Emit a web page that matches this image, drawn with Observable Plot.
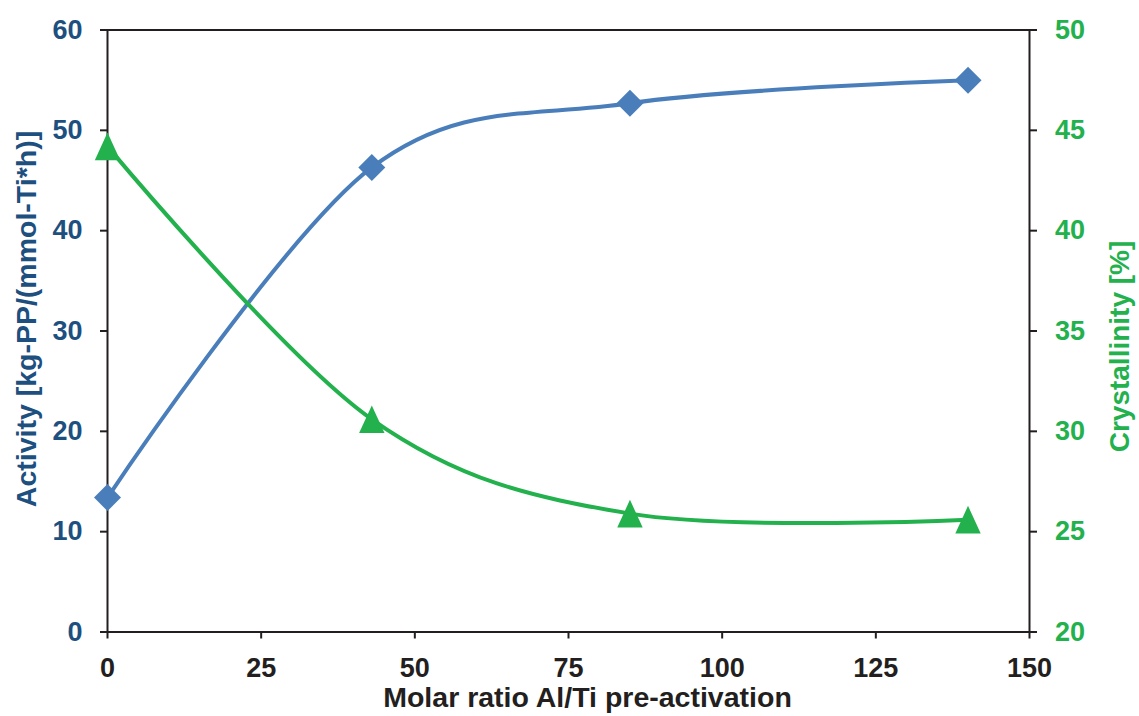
<!DOCTYPE html>
<html>
<head>
<meta charset="utf-8">
<script src="https://cdn.jsdelivr.net/npm/d3@7"></script>
<script src="https://cdn.jsdelivr.net/npm/@observablehq/plot@0.6"></script>
<style>
  html, body { margin: 0; padding: 0; background: #ffffff; }
  #chart svg { display: block; }
</style>
</head>
<body>
<div id="chart"></div>
<script>
// Molar ratio Al/Ti used in pre-activation
const molarRatio = [0, 43, 85, 140];
// Catalyst activity, kg-PP/(mmol-Ti*h)
const activity = [13.4, 46.3, 52.7, 55.0];
// Crystallinity of the polymer, %
const crystallinity = [44.2, 30.6, 25.9, 25.6];

const xTicks = [0, 25, 50, 75, 100, 125, 150];
const activityTicks = [0, 10, 20, 30, 40, 50, 60];
const crystTicks = [20, 25, 30, 35, 40, 45, 50];

const rows = molarRatio.map((r, i) => ({ratio: r, activity: activity[i], cryst: crystallinity[i]}));

// Secondary axis: crystallinity 20–50 % is drawn on the 0–60 activity scale
const crystMin = 20, crystMax = 50, actMax = 60;
const toLeft = c => (c - crystMin) * actMax / (crystMax - crystMin);
const fromLeft = v => crystMin + v * (crystMax - crystMin) / actMax;

const BLUE = "#4A7EBB";
const DARK_BLUE = "#1D4F7F";
const GREEN = "#22B14C";
const INK = "#231F20";
const FONT = "'Liberation Sans', Arial, sans-serif";

// Filled marker shapes; r is the half-height of the marker
const diamond = {
  draw(ctx, size) {
    const r = Math.sqrt(size / Math.PI);
    ctx.moveTo(0, -r); ctx.lineTo(r, 0); ctx.lineTo(0, r); ctx.lineTo(-r, 0); ctx.closePath();
  }
};
const triangle = {
  draw(ctx, size) {
    const r = Math.sqrt(size / Math.PI);
    ctx.moveTo(0, -r); ctx.lineTo(r * 0.92, r); ctx.lineTo(-r * 0.92, r); ctx.closePath();
  }
};

const chart = Plot.plot({
  width: 1139,
  height: 716,
  marginLeft: 107,
  marginRight: 110,
  marginTop: 29.5,
  marginBottom: 84.5,
  style: {fontFamily: FONT, background: "#ffffff"},
  x: {domain: [0, 150]},
  y: {domain: [0, 60]},
  marks: [
    Plot.line(rows, {x: "ratio", y: "activity", curve: "cardinal", stroke: BLUE, strokeWidth: 4}),
    Plot.line(rows, {x: "ratio", y: d => toLeft(d.cryst), curve: "cardinal", stroke: GREEN, strokeWidth: 4}),
    Plot.frame({stroke: INK, strokeWidth: 2}),
    Plot.axisX(xTicks, {
      anchor: "bottom", tickSize: 7, tickPadding: 19, stroke: INK, strokeWidth: 2,
      fill: INK, fontSize: 27, fontWeight: "bold", label: null
    }),
    Plot.axisY(activityTicks, {
      anchor: "left", tickSize: 7, tickPadding: 18, stroke: INK, strokeWidth: 2,
      fill: DARK_BLUE, fontSize: 27, fontWeight: "bold", label: null
    }),
    Plot.axisY(crystTicks.map(toLeft), {
      anchor: "right", tickSize: 7, tickPadding: 18.5, stroke: INK, strokeWidth: 2,
      fill: GREEN, fontSize: 27, fontWeight: "bold", label: null,
      tickFormat: v => String(Math.round(fromLeft(v)))
    }),
    Plot.dot(rows, {x: "ratio", y: "activity", symbol: diamond, r: 13.5, fill: BLUE, stroke: "none"}),
    Plot.dot(rows, {x: "ratio", y: d => toLeft(d.cryst), symbol: triangle, r: 13.8, fill: GREEN, stroke: "none"}),
    // Axis titles
    Plot.text(["Activity [kg-PP/(mmol-Ti*h)]"], {
      frameAnchor: "left", rotate: -90, textAnchor: "middle", lineAnchor: "bottom",
      dx: -71.5, dy: -12, fill: DARK_BLUE, fontSize: 28.5, fontWeight: "bold"
    }),
    Plot.text(["Crystallinity [%]"], {
      frameAnchor: "right", rotate: -90, textAnchor: "middle", lineAnchor: "bottom",
      dx: 99, dy: 15.5, fill: GREEN, fontSize: 28, fontWeight: "bold"
    }),
    Plot.text(["Molar ratio Al/Ti pre-activation"], {
      frameAnchor: "bottom", textAnchor: "middle", lineAnchor: "bottom",
      dx: 19, dy: 74.5, fill: INK, fontSize: 28.5, fontWeight: "bold"
    })
  ]
});

document.getElementById("chart").appendChild(chart);
</script>
</body>
</html>
